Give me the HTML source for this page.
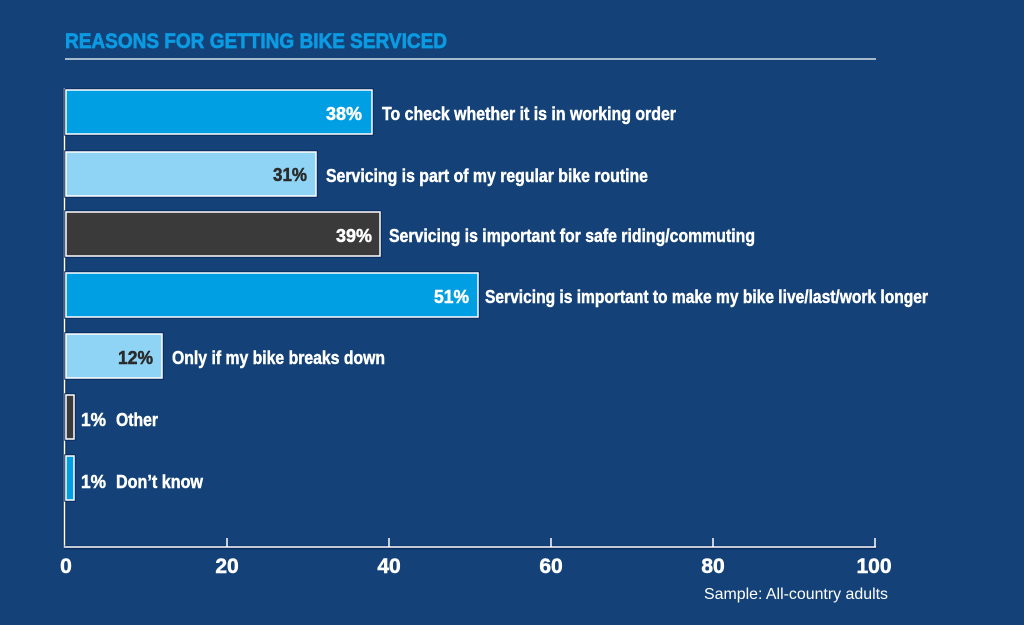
<!DOCTYPE html>
<html><head><meta charset="utf-8"><style>
html,body{margin:0;padding:0;background:#134178;}
svg{display:block;}
text{font-family:"Liberation Sans",sans-serif;}
</style></head><body>
<svg width="1024" height="625" viewBox="0 0 1024 625" xmlns="http://www.w3.org/2000/svg">
<rect width="1024" height="625" fill="#134178"/>
<text x="65" y="48" font-size="21" font-weight="bold" fill="#0a9be2" stroke="#0a9be2" stroke-width="0.7" textLength="382" lengthAdjust="spacingAndGlyphs">REASONS FOR GETTING BIKE SERVICED</text>
<line x1="65" y1="59" x2="876" y2="59" stroke="#ffffff" stroke-width="1.3"/>

<!-- axes -->
<line x1="64.5" y1="88" x2="64.5" y2="548" stroke="#0b2a5e" stroke-width="3.5"/>
<line x1="64.5" y1="88" x2="64.5" y2="548" stroke="#ffffff" stroke-width="1.5"/>
<line x1="64" y1="547.5" x2="876" y2="547.5" stroke="#0b2a5e" stroke-width="3.5"/>
<line x1="64" y1="547" x2="876" y2="547" stroke="#ffffff" stroke-width="1.5"/>
<g stroke="#ffffff" stroke-width="1.5">
<line x1="227" y1="538" x2="227" y2="547"/>
<line x1="389" y1="538" x2="389" y2="547"/>
<line x1="551" y1="538" x2="551" y2="547"/>
<line x1="713" y1="538" x2="713" y2="547"/>
<line x1="875" y1="538" x2="875" y2="547"/>
</g>
<g font-size="21" font-weight="bold" fill="#ffffff" stroke="#ffffff" stroke-width="0.5" text-anchor="middle">
<text x="66" y="573">0</text>
<text x="227" y="573">20</text>
<text x="389" y="573">40</text>
<text x="551" y="573">60</text>
<text x="713" y="573">80</text>
<text x="874" y="573">100</text>
</g>

<!-- bars -->
<g stroke="#0b2a5e" stroke-width="3.5" fill="none">
<rect x="66" y="90" width="306" height="44"/>
<rect x="66" y="152" width="250" height="44"/>
<rect x="66" y="212" width="314" height="44"/>
<rect x="66" y="273" width="412" height="44"/>
<rect x="66" y="334" width="96" height="44"/>
<rect x="66" y="395" width="8" height="44"/>
<rect x="66" y="456" width="8" height="44"/>
</g>
<g stroke="#ffffff" stroke-width="1.5">
<rect x="66" y="90" width="306" height="44" fill="#009ee2"/>
<rect x="66" y="152" width="250" height="44" fill="#8fd3f5"/>
<rect x="66" y="212" width="314" height="44" fill="#3a3a3a"/>
<rect x="66" y="273" width="412" height="44" fill="#009ee2"/>
<rect x="66" y="334" width="96" height="44" fill="#8fd3f5"/>
<rect x="66" y="395" width="8" height="44" fill="#3a3a3a"/>
<rect x="66" y="456" width="8" height="44" fill="#009ee2"/>
</g>

<!-- values -->
<g font-size="18" font-weight="bold" stroke-width="0.5">
<text x="326" y="120" fill="#ffffff" stroke="#ffffff" textLength="36" lengthAdjust="spacingAndGlyphs">38%</text>
<text x="273" y="181" fill="#2a2a2a" stroke="#2a2a2a" textLength="34" lengthAdjust="spacingAndGlyphs">31%</text>
<text x="336" y="242" fill="#ffffff" stroke="#ffffff" textLength="36" lengthAdjust="spacingAndGlyphs">39%</text>
<text x="434" y="303" fill="#ffffff" stroke="#ffffff" textLength="35" lengthAdjust="spacingAndGlyphs">51%</text>
<text x="118" y="364" fill="#2a2a2a" stroke="#2a2a2a" textLength="35" lengthAdjust="spacingAndGlyphs">12%</text>
<text x="81" y="426" fill="#ffffff" stroke="#ffffff" textLength="25" lengthAdjust="spacingAndGlyphs">1%</text>
<text x="81" y="488" fill="#ffffff" stroke="#ffffff" textLength="25" lengthAdjust="spacingAndGlyphs">1%</text>
</g>

<!-- labels -->
<g font-size="18" font-weight="bold" fill="#ffffff" stroke="#ffffff" stroke-width="0.45">
<text x="382" y="120" textLength="294" lengthAdjust="spacingAndGlyphs">To check whether it is in working order</text>
<text x="326" y="182" textLength="322" lengthAdjust="spacingAndGlyphs">Servicing is part of my regular bike routine</text>
<text x="389" y="242" textLength="366" lengthAdjust="spacingAndGlyphs">Servicing is important for safe riding/commuting</text>
<text x="485" y="303" textLength="443" lengthAdjust="spacingAndGlyphs">Servicing is important to make my bike live/last/work longer</text>
<text x="172" y="364" textLength="213" lengthAdjust="spacingAndGlyphs">Only if my bike breaks down</text>
<text x="116" y="426" textLength="42" lengthAdjust="spacingAndGlyphs">Other</text>
<text x="116" y="488" textLength="87" lengthAdjust="spacingAndGlyphs">Don’t know</text>
</g>

<text x="704" y="599" font-size="16" fill="#ffffff" textLength="184" lengthAdjust="spacingAndGlyphs">Sample: All-country adults</text>
</svg>
</body></html>
